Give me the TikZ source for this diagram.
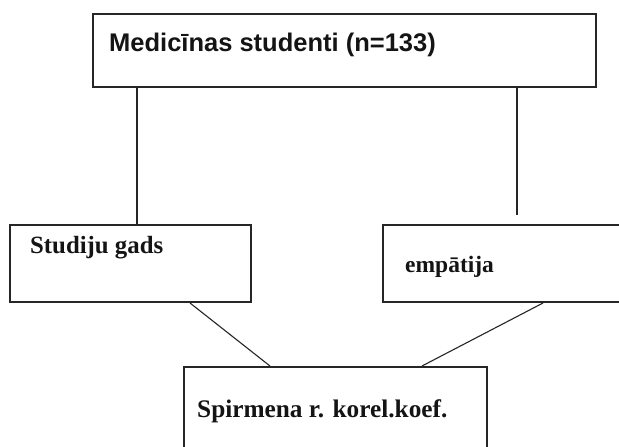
\documentclass[tikz,border=0pt]{standalone}
\usepackage{fontspec}
\setmainfont{Liberation Serif}
\newfontfamily\arialf{Liberation Sans}
\definecolor{ink}{HTML}{262626}
\definecolor{txt}{HTML}{141414}
\tikzset{
  box/.style={draw=ink, line width=1.6pt, rectangle, inner sep=0pt, outer sep=0pt, anchor=north west},
  conn/.style={draw=ink, line width=1.3pt},
  lbl/.style={anchor=base west, inner sep=0pt, text=txt, font=\bfseries}
}
\begin{document}
\begin{tikzpicture}[x=1pt,y=-1pt]
\useasboundingbox (0,0) rectangle (619,447);
\clip (0,0) rectangle (619,447);
\fill[white] (0,0) rectangle (619,447);
% boxes
\node[box, minimum width=503pt, minimum height=73pt] (top) at (93,14) {};
\node[box, minimum width=241pt, minimum height=77pt] (sg) at (10,225) {};
\node[box, minimum width=245pt, minimum height=77pt] (emp) at (383,225) {};
\node[box, minimum width=303pt, minimum height=95pt] (sp) at (184,367) {};
% texts
\node[lbl, font=\arialf\bfseries\fontsize{25.5}{28}\selectfont] (ttop) at (109,51) {Medicīnas studenti (n=133)};
\node[lbl, font=\bfseries\fontsize{24.8}{27}\selectfont] (tsg) at (30,253) {Studiju gads};
\node[lbl, font=\bfseries\fontsize{23.5}{26}\selectfont] (temp) at (405,272) {empātija};
\node[lbl, font=\bfseries\fontsize{25.3}{28}\selectfont] (tsp) at (197,417) {Spirmena r. korel.koef.};
% connector helpers
\coordinate (lx) at (137,0);
\coordinate (rx) at (517,0);
\coordinate (rend) at (517,215);
\coordinate (d1a) at (190,303);
\coordinate (d1b) at (270,366);
\coordinate (d2a) at (543,303);
\coordinate (d2b) at (422,366);
% connectors
\draw[conn] (top.south -| lx) -- (sg.north -| lx);
\draw[conn] (top.south -| rx) -- (rend);
\draw[conn, line width=1.1pt] (d1a) -- (d1b);
\draw[conn, line width=1.1pt] (d2a) -- (d2b);
\end{tikzpicture}
\end{document}
